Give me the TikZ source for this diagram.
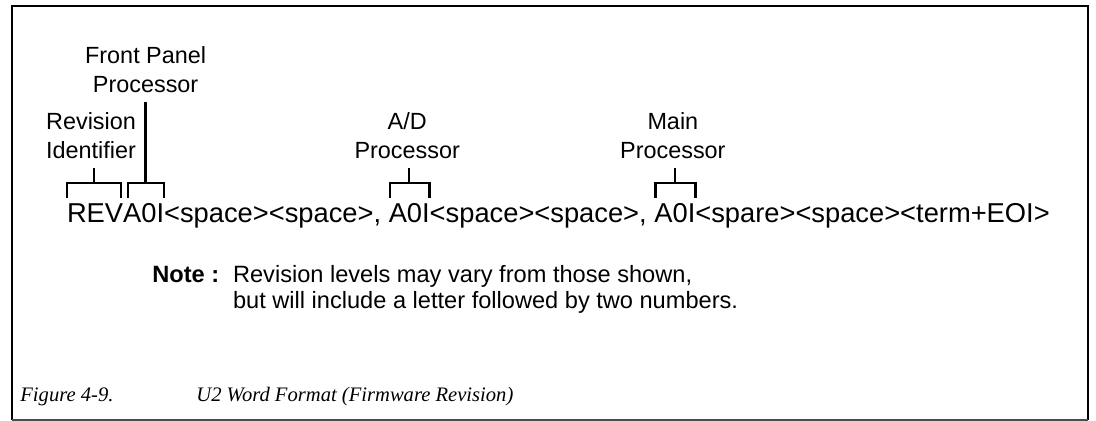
\documentclass[tikz,border=0pt]{standalone}
\usepackage{fontspec}
\setmainfont{Liberation Sans}
\newfontfamily\capfont{Liberation Serif}
\usetikzlibrary{positioning, calc}

\begin{document}
\begin{tikzpicture}[
    x=0.5pt, y=-0.5pt,
    tag/.style={align=center, inner sep=0pt, outer sep=4.5pt,
      font=\fontsize{11.7}{14.5}\selectfont},
    word/.style={inner sep=0pt, outer sep=0pt, anchor=base west,
      font=\fontsize{13.65}{16}\selectfont},
    notetext/.style={inner sep=0pt, anchor=base west, align=left,
      font=\fontsize{11.8}{13}\selectfont},
    captext/.style={inner sep=0pt, anchor=base west,
      font=\capfont\itshape\fontsize{10.3}{12}\selectfont},
    bracket/.style={line width=1.25pt},
    stem/.style={line width=1.25pt},
    figframe/.style={line width=1.3pt}
]
\useasboundingbox (0,0) rectangle (1096,421);

% frame
\draw[figframe] (12,420) -- (12,6) -- (1088,6) -- (1088,420);
\draw[line width=0.8pt, black!70] (12,420) -- (1088,420);

% the word
\node[word] (rev) at (67,223) {REV};
\node[word] (fp) at (rev.base east) {A0I};
\node[word] (gap1) at (fp.base east) {<space><space>,\ \null};
\node[word] (ad) at (gap1.base east) {A0I};
\node[word] (gap2) at (ad.base east) {<space><space>,\ \null};
\node[word] (mp) at (gap2.base east) {A0I};
\node[word] (tail) at (mp.base east) {<spare><space><term+EOI>};

% brackets
\draw[bracket] ([yshift=3pt]rev.north west) |- ([yshift=10.5pt,xshift=-0.5pt]rev.north) coordinate (revtop)
  -| ([yshift=3pt,xshift=-1pt]rev.north east);
\draw[bracket] ([yshift=3pt,xshift=2.5pt]fp.north west) |- ([yshift=10.5pt,xshift=1pt]fp.north) coordinate (fptop)
  -| ([yshift=3pt]fp.north east);
\draw[bracket] ([yshift=3pt,xshift=0.5pt]ad.north west) |- ([yshift=10.5pt]ad.north) coordinate (adtop)
  -| ([yshift=3pt]ad.north east);
\draw[bracket] ([yshift=3pt,xshift=0.5pt]mp.north west) |- ([yshift=10.5pt]mp.north) coordinate (mptop)
  -| ([yshift=3pt]mp.north east);

% labels
\node[tag, above=7.5pt of revtop, xshift=-1.5pt] (revlab) {Revision\\Identifier};
\node[tag, above=40.5pt of fptop] (fplab) {Front Panel\\Processor};
\node[tag, above=7.5pt of adtop, xshift=-1pt] (adlab) {A/D\\Processor};
\node[tag, above=7.5pt of mptop, xshift=-1pt] (mplab) {Main\\Processor};

\draw[stem] (revtop) -- (revtop |- revlab.south);
\draw[stem] (fptop) -- (fplab.south);
\draw[stem] (adtop) -- (adtop |- adlab.south);
\draw[stem] (mptop) -- (mptop |- mplab.south);

% note
\node[notetext] (notehead) at (152,283) {\bfseries Note :};
\node[notetext, anchor=base west] (notebody) at ([xshift=6.5pt,yshift=-13pt]notehead.base east)
  {Revision levels may vary from those shown,\\but will include a letter followed by two numbers.};

% caption
\node[captext] (capnum) at (20,402) {Figure 4-9.};
\node[captext] (captitle) at (196,402) {U2 Word Format (Firmware Revision)};
\end{tikzpicture}
\end{document}
